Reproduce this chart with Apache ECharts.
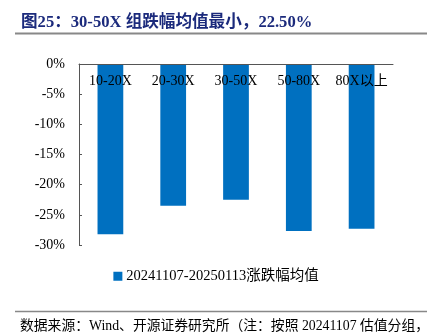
<!DOCTYPE html>
<html><head><meta charset="utf-8">
<script src="https://cdn.jsdelivr.net/npm/echarts@6/dist/echarts.min.js"></script>
<style>html,body{margin:0;padding:0;background:#fff}#c{width:432px;height:336px}</style>
</head><body><div id="c"></div>
<script>
const categories = ['10-20X', '20-30X', '30-50X', '50-80X', '80X以上'];
const values = [-28.2, -23.5, -22.5, -27.7, -27.3];
const seriesName = '20241107-20250113涨跌幅均值';
const titleText = '图25：30-50X 组跌幅均值最小，22.50%';
const sourceText = '数据来源：Wind、开源证券研究所（注：按照 20241107 估值分组，';
const serif = '"Liberation Serif", "Noto Sans CJK SC", serif';

const chart = echarts.init(document.getElementById('c'));
chart.setOption({
  animation: false,
  title: [
    { text: titleText, left: 16, top: 9, textStyle: { fontFamily: serif, fontSize: 16.6, fontWeight: 'bold', color: '#1B2A7C' } },
    { text: sourceText, left: 15, top: 314, textStyle: { fontFamily: serif, fontSize: 13.8, fontWeight: 'normal', color: '#000' } }
  ],
  graphic: [
    { type: 'line', shape: { x1: 15, y1: 33.5, x2: 427, y2: 33.5 }, style: { stroke: '#888', lineWidth: 2 } },
    { type: 'line', shape: { x1: 15, y1: 311.5, x2: 427, y2: 311.5 }, style: { stroke: '#888', lineWidth: 1.5 } }
  ],
  legend: {
    data: [seriesName], top: 264, left: 'center',
    itemWidth: 9, itemHeight: 9, itemGap: 2, icon: 'rect',
    textStyle: { fontFamily: serif, fontSize: 14.5, color: '#000', padding: [0, 0, 0, -1] }
  },
  grid: { left: 79, right: 39, top: 64, bottom: 91 },
  xAxis: {
    type: 'category', data: categories, position: 'top', z: 10,
    axisLine: { onZero: false, lineStyle: { color: '#555', width: 1 } },
    axisTick: { inside: false, length: 4, lineStyle: { color: '#555' } },
    axisLabel: { inside: true, interval: 0, margin: 10, fontFamily: serif, fontSize: 14, color: '#000' }
  },
  yAxis: {
    type: 'value', min: -30, max: 0, interval: 5,
    axisLine: { show: true, lineStyle: { color: '#555' } },
    axisTick: { show: true, inside: true, length: 3, lineStyle: { color: '#555' } },
    splitLine: { show: false },
    axisLabel: { margin: 14, fontFamily: serif, fontSize: 14, color: '#000', formatter: v => v + '%' }
  },
  series: [{
    name: seriesName, type: 'bar', data: values, barWidth: '41%',
    itemStyle: { color: '#0070C0' }
  }]
});
</script></body></html>
